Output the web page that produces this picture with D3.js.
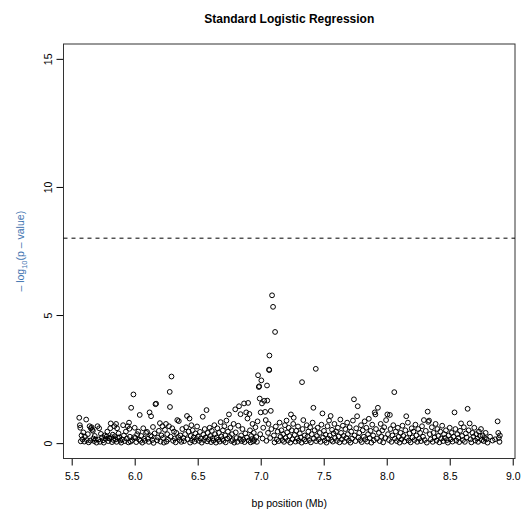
<!DOCTYPE html>
<html lang="en">
<head>
<meta charset="UTF-8">
<title>Standard Logistic Regression</title>
<script src="https://d3js.org/d3.v7.min.js"></script>
<style>
  body { margin: 0; background: #fff; }
  svg { display: block; font-family: "Liberation Sans", Arial, sans-serif; }
  .pt { fill: none; stroke: #000; stroke-width: 1px; }
</style>
</head>
<body>
<svg id="chart" width="523" height="518"></svg>
<script>
// SNP positions (Mb) and -log10(p) values, matched by index
const positions = [
  5.560,5.565,5.568,5.572,5.578,5.585,5.592,5.600,5.605,5.615,5.620,5.628,
  5.635,5.642,5.648,5.652,5.658,5.662,5.668,5.672,5.678,5.683,5.690,5.697,
  5.705,5.712,5.718,5.725,5.732,5.740,5.748,5.755,5.762,5.770,5.778,5.783,
  5.790,5.795,5.800,5.806,5.810,5.815,5.820,5.826,5.832,5.838,5.843,5.848,
  5.852,5.856,5.860,5.866,5.872,5.878,5.885,5.893,5.900,5.908,5.915,5.922,
  5.930,5.938,5.945,5.950,5.955,5.958,5.962,5.968,5.972,5.980,5.990,5.995,
  6.000,6.005,6.012,6.020,6.028,6.035,6.040,6.045,6.052,6.060,6.068,6.075,
  6.082,6.090,6.098,6.105,6.112,6.118,6.125,6.130,6.135,6.140,6.145,6.150,
  6.158,6.165,6.170,6.178,6.185,6.192,6.200,6.205,6.212,6.220,6.225,6.232,
  6.240,6.248,6.252,6.258,6.265,6.272,6.278,6.280,6.285,6.292,6.298,6.305,
  6.312,6.318,6.325,6.330,6.338,6.345,6.350,6.356,6.362,6.370,6.378,6.385,
  6.392,6.400,6.408,6.415,6.420,6.428,6.435,6.440,6.445,6.450,6.455,6.460,
  6.468,6.475,6.482,6.490,6.495,6.502,6.510,6.518,6.525,6.532,6.540,6.545,
  6.550,6.556,6.562,6.570,6.575,6.580,6.588,6.595,6.600,6.606,6.612,6.618,
  6.625,6.632,6.638,6.645,6.650,6.656,6.662,6.668,6.675,6.682,6.688,6.695,
  6.700,6.705,6.712,6.718,6.722,6.728,6.735,6.740,6.748,6.752,6.760,6.768,
  6.772,6.778,6.785,6.790,6.798,6.802,6.808,6.815,6.822,6.828,6.835,6.840,
  6.845,6.850,6.855,6.862,6.868,6.872,6.878,6.885,6.890,6.895,6.900,6.905,
  6.910,6.915,6.920,6.925,6.930,6.935,6.940,6.945,6.950,6.958,6.965,6.970,
  6.975,6.979,6.985,6.988,6.992,6.996,7.000,7.005,7.010,7.015,7.020,7.028,
  7.035,7.040,7.045,7.050,7.052,7.058,7.062,7.066,7.068,7.069,7.075,7.080,
  7.085,7.090,7.098,7.105,7.110,7.114,7.120,7.128,7.135,7.142,7.150,7.158,
  7.165,7.172,7.178,7.185,7.192,7.198,7.205,7.210,7.216,7.222,7.228,7.235,
  7.240,7.246,7.252,7.258,7.262,7.270,7.276,7.282,7.290,7.296,7.302,7.310,
  7.318,7.325,7.328,7.332,7.338,7.345,7.350,7.358,7.365,7.372,7.378,7.385,
  7.392,7.398,7.405,7.412,7.418,7.422,7.428,7.437,7.440,7.446,7.452,7.460,
  7.468,7.475,7.482,7.490,7.495,7.502,7.508,7.515,7.522,7.530,7.535,7.542,
  7.548,7.555,7.560,7.566,7.572,7.578,7.585,7.590,7.598,7.605,7.612,7.618,
  7.625,7.632,7.638,7.645,7.652,7.658,7.665,7.672,7.680,7.686,7.692,7.700,
  7.706,7.712,7.718,7.725,7.732,7.740,7.745,7.752,7.758,7.765,7.770,7.775,
  7.782,7.790,7.796,7.802,7.810,7.818,7.825,7.830,7.838,7.845,7.852,7.858,
  7.865,7.872,7.878,7.885,7.892,7.898,7.905,7.910,7.915,7.922,7.930,7.938,
  7.945,7.952,7.958,7.965,7.972,7.980,7.988,7.995,8.005,8.010,8.018,8.025,
  8.030,8.038,8.045,8.052,8.060,8.065,8.072,8.080,8.088,8.095,8.102,8.110,
  8.118,8.125,8.132,8.140,8.148,8.155,8.160,8.168,8.175,8.182,8.190,8.198,
  8.205,8.212,8.220,8.228,8.235,8.242,8.250,8.258,8.265,8.272,8.280,8.288,
  8.295,8.302,8.310,8.318,8.325,8.330,8.336,8.342,8.350,8.358,8.365,8.372,
  8.380,8.388,8.395,8.402,8.410,8.418,8.425,8.432,8.440,8.448,8.455,8.462,
  8.470,8.478,8.485,8.492,8.500,8.508,8.515,8.522,8.530,8.538,8.545,8.552,
  8.560,8.568,8.575,8.582,8.590,8.598,8.605,8.612,8.620,8.628,8.635,8.642,
  8.650,8.658,8.665,8.672,8.680,8.688,8.695,8.702,8.710,8.718,8.725,8.732,
  8.740,8.748,8.755,8.762,8.770,8.778,8.785,8.792,8.800,8.820,8.840,8.860,
  8.880,8.885,8.890,8.895,8.898
];
const logP = [
  0.99,0.70,0.60,0.07,0.30,0.15,0.42,0.06,0.25,0.92,0.12,0.35,
  0.03,0.66,0.10,0.58,0.62,0.52,0.48,0.18,0.08,0.28,0.14,0.02,
  0.66,0.14,0.58,0.05,0.36,0.22,0.11,0.02,0.30,0.17,0.26,0.45,
  0.08,0.20,0.18,0.58,0.77,0.23,0.04,0.33,0.12,0.66,0.27,0.14,
  0.75,0.05,0.58,0.21,0.38,0.23,0.10,0.02,0.14,0.70,0.30,0.08,
  0.45,0.18,0.66,0.03,0.80,0.56,0.25,0.06,1.38,0.12,1.90,0.23,
  0.60,0.20,0.04,0.35,0.45,0.14,1.10,0.09,0.28,0.02,0.58,0.17,
  0.09,0.40,0.44,0.17,0.05,1.20,0.30,1.05,0.26,0.12,0.63,0.01,
  0.38,1.52,1.54,0.11,0.22,0.48,0.78,0.06,0.30,0.66,0.20,0.02,
  0.52,0.75,0.06,0.35,0.14,0.66,2.00,1.41,0.25,2.60,0.58,0.09,
  0.45,0.18,0.03,0.40,0.90,0.23,0.86,0.12,0.30,0.05,0.55,0.20,
  0.08,0.35,0.62,1.06,0.15,0.45,0.96,0.02,0.28,0.70,0.11,0.50,
  0.22,0.06,0.38,0.16,0.65,0.26,0.09,0.44,0.18,0.02,1.03,0.33,
  0.12,0.55,0.22,1.29,0.07,0.40,0.15,0.60,0.28,0.04,0.48,0.19,
  0.10,0.70,0.35,0.02,0.22,0.58,0.13,0.40,0.06,0.82,0.26,0.15,
  0.50,0.09,0.66,0.30,0.03,0.88,0.18,0.45,1.12,0.24,0.60,0.08,
  0.35,0.12,0.75,0.02,1.32,0.42,0.20,0.05,0.68,1.44,0.16,1.13,
  0.30,0.08,0.55,0.14,1.55,0.04,0.38,1.20,0.22,0.96,1.57,0.10,
  1.14,0.50,0.03,0.28,0.16,0.75,0.07,0.40,0.12,0.62,0.24,0.05,
  0.85,2.65,2.19,2.22,1.74,0.35,1.20,2.45,1.55,0.18,0.60,1.65,
  1.22,0.90,0.09,2.25,1.66,0.40,0.75,2.87,2.85,3.42,0.20,1.26,
  0.55,5.77,5.32,0.30,0.03,4.34,0.65,0.14,0.45,0.08,0.80,0.25,
  0.50,0.12,0.35,0.05,0.70,0.20,0.88,0.42,0.10,0.60,0.28,0.02,
  1.12,0.50,0.15,0.75,0.99,0.32,0.06,0.48,0.18,0.65,0.09,0.38,
  0.22,0.02,2.38,0.55,0.90,0.14,0.30,0.07,0.70,0.25,0.45,0.12,
  0.62,0.03,0.35,0.80,1.38,0.18,0.50,2.90,0.08,0.28,0.60,0.15,
  0.40,0.05,0.72,1.16,0.22,0.48,0.10,0.33,0.02,0.66,0.18,0.88,
  0.30,1.06,0.12,0.52,0.06,0.38,0.75,0.20,0.45,0.09,0.60,0.26,
  0.03,0.92,0.40,0.15,0.68,0.28,0.05,0.55,0.20,0.80,0.35,0.10,
  0.62,0.02,0.45,0.18,0.88,1.71,0.30,0.08,0.58,1.05,1.44,0.22,
  0.40,0.12,0.70,0.04,0.50,0.25,0.85,0.15,0.60,0.06,0.35,0.95,
  0.20,0.48,0.02,0.72,0.30,0.11,1.20,1.12,0.55,0.18,1.38,0.40,
  0.08,0.75,0.25,0.50,0.03,0.62,0.20,0.90,1.12,0.35,0.12,1.10,
  0.55,0.05,0.30,0.70,1.99,0.18,0.45,0.08,0.60,0.25,0.02,0.40,
  0.15,0.68,0.28,0.06,0.50,1.05,0.20,0.80,0.10,0.38,0.03,0.58,
  0.22,0.45,0.12,0.72,0.30,0.05,0.55,0.18,0.40,0.08,0.66,0.25,
  0.90,0.12,0.48,0.02,1.23,0.83,0.88,0.35,0.15,0.62,0.05,0.40,
  0.22,0.75,0.10,0.55,0.28,0.03,0.45,0.18,0.68,0.08,0.35,0.20,
  0.50,0.12,0.02,0.30,0.60,0.15,0.40,0.06,0.25,1.20,0.55,0.10,
  0.35,0.20,0.04,0.48,0.77,0.28,0.12,0.62,0.05,0.38,0.22,1.34,
  0.50,0.77,0.15,0.03,0.40,0.25,0.60,0.10,0.35,0.18,0.05,0.45,
  0.28,0.55,0.12,0.30,0.08,0.20,0.40,0.15,0.02,0.25,0.10,0.15,
  0.85,0.40,0.20,0.05,0.30
];
const xTicks = [5.5, 6.0, 6.5, 7.0, 7.5, 8.0, 8.5, 9.0];
const yTicks = [0, 5, 10, 15];
const threshold = 8;

const svg = d3.select("#chart");
const box = { left: 63.5, right: 515, top: 44, bottom: 458.5 };

const x = d3.scaleLinear().domain([5.435, 9.018]).range([box.left, box.right]);
const y = d3.scaleLinear().domain([-0.6, 15.58]).range([box.bottom, box.top]);

// title
svg.append("text")
  .attr("x", (box.left + box.right) / 2).attr("y", 23)
  .attr("text-anchor", "middle")
  .style("font-size", "12px").style("font-weight", "bold")
  .text("Standard Logistic Regression");

// axes
const xAxis = svg.append("g")
  .attr("transform", `translate(0,${box.bottom})`)
  .call(d3.axisBottom(x).tickValues(xTicks).tickFormat(d3.format(".1f")).tickSize(7).tickPadding(7));
const yAxis = svg.append("g")
  .attr("transform", `translate(${box.left},0)`)
  .call(d3.axisLeft(y).tickValues(yTicks).tickSize(7).tickPadding(4));

[xAxis, yAxis].forEach(g => {
  g.select(".domain").remove();
  g.selectAll("line").attr("stroke", "#000");
  g.selectAll("text").style("font-size", "10.5px").style("font-family", "Liberation Sans, Arial, sans-serif").attr("fill", "#000");
});
// axis line spans only the tick range, as in R
xAxis.append("line").attr("x1", x(5.5)).attr("x2", x(9.0)).attr("stroke", "#000");
yAxis.append("line").attr("y1", y(0)).attr("y2", y(15)).attr("stroke", "#000");
// rotate y tick labels like R's las=0
yAxis.selectAll(".tick text")
  .attr("x", null).attr("dy", null)
  .attr("text-anchor", "middle")
  .attr("transform", "translate(-15,0) rotate(-90)")
  .attr("y", 0).attr("dy", "0.35em");

// plot box
svg.append("rect")
  .attr("x", box.left).attr("y", box.top)
  .attr("width", box.right - box.left).attr("height", box.bottom - box.top)
  .attr("fill", "none").attr("stroke", "#333").attr("stroke-width", 1);

// significance threshold
svg.append("line")
  .attr("x1", box.left).attr("x2", box.right)
  .attr("y1", y(threshold)).attr("y2", y(threshold))
  .attr("stroke", "#000").attr("stroke-dasharray", "4,4");

// points
svg.append("g").selectAll("circle")
  .data(positions.map((p, i) => [p, logP[i]]))
  .join("circle")
  .attr("class", "pt")
  .attr("cx", d => x(d[0]))
  .attr("cy", d => y(d[1]))
  .attr("r", 2.4);

// axis labels
svg.append("text")
  .attr("x", (box.left + box.right) / 2).attr("y", 507)
  .attr("text-anchor", "middle")
  .style("font-size", "10.5px")
  .text("bp position (Mb)");

const yl = svg.append("text")
  .attr("transform", `translate(24,${(box.top + box.bottom) / 2}) rotate(-90)`)
  .attr("text-anchor", "middle")
  .attr("fill", "#3f74b0")
  .style("font-size", "10.5px");
yl.append("tspan").text("\u2013 log");
yl.append("tspan").attr("dy", "3").style("font-size", "7.5px").text("10");
yl.append("tspan").attr("dy", "-3").text("(p \u2013 value)");
</script>
</body>
</html>
